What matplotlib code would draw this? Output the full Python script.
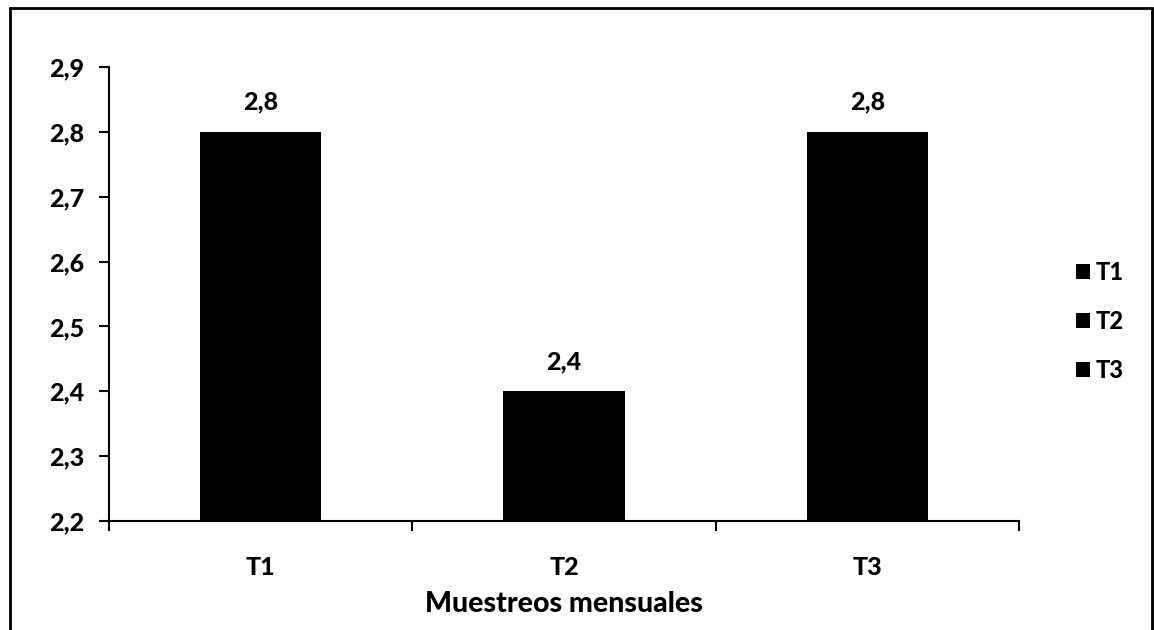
import matplotlib.pyplot as plt
from matplotlib.patches import Patch, Rectangle
from matplotlib.ticker import FixedLocator, FuncFormatter

categories = ['T1', 'T2', 'T3']
values = [2.8, 2.4, 2.8]
yticks = [2.2, 2.3, 2.4, 2.5, 2.6, 2.7, 2.8, 2.9]

plt.rcParams['font.family'] = ['Lato', 'DejaVu Sans']
plt.rcParams['font.weight'] = 'black'

fig = plt.figure(figsize=(11.54, 6.3), dpi=100)
ax = fig.add_axes([0.0945, 0.173, 0.7885, 0.7207])

x = range(len(categories))
bars = ax.bar(x, values, width=0.4, color='black', zorder=2)

ax.set_xlim(-0.5, len(categories) - 0.5)
ax.set_ylim(yticks[0], yticks[-1])
ax.set_yticks(yticks)
ax.yaxis.set_major_formatter(FuncFormatter(lambda v, p: '{:.1f}'.format(v).replace('.', ',')))

# category separators as major ticks, names on minor ticks
ax.xaxis.set_major_locator(FixedLocator([i - 0.5 for i in range(len(categories) + 1)]))
ax.xaxis.set_major_formatter(FuncFormatter(lambda v, p: ''))
ax.xaxis.set_minor_locator(FixedLocator(list(x)))
ax.set_xticklabels(categories, minor=True)
ax.tick_params(axis='x', which='major', length=7, width=1.5, direction='out')
ax.tick_params(axis='x', which='minor', length=0, pad=25, labelsize=18)
ax.tick_params(axis='y', length=7, width=1.5, direction='out', pad=11, labelsize=18)

for s in ['top', 'right']:
    ax.spines[s].set_visible(False)
for s in ['left', 'bottom']:
    ax.spines[s].set_linewidth(1.5)

for b, v in zip(bars, values):
    ax.annotate('{:.1f}'.format(v).replace('.', ','),
                (b.get_x() + b.get_width() / 2, v),
                xytext=(0, 22), textcoords='offset pixels',
                ha='center', va='baseline', fontsize=18, fontweight='black')

ax.set_xlabel('Muestreos mensuales', fontsize=20.5, fontweight='black', labelpad=9)

handles = [Patch(facecolor='black', label=c) for c in categories]
fig.legend(handles=handles, loc='center left', bbox_to_anchor=(0.914, 0.49),
           frameon=False, fontsize=17, handlelength=0.6, handleheight=0.6,
           handletextpad=0.25, labelspacing=1.1)

# outer frame
fig.patches.append(Rectangle((10 / 1154, -0.01), 1142 / 1154, 1 - 8 / 630 + 0.01,
                             transform=fig.transFigure, fill=False,
                             edgecolor='black', linewidth=2))

fig.savefig('out.png', dpi=100)
